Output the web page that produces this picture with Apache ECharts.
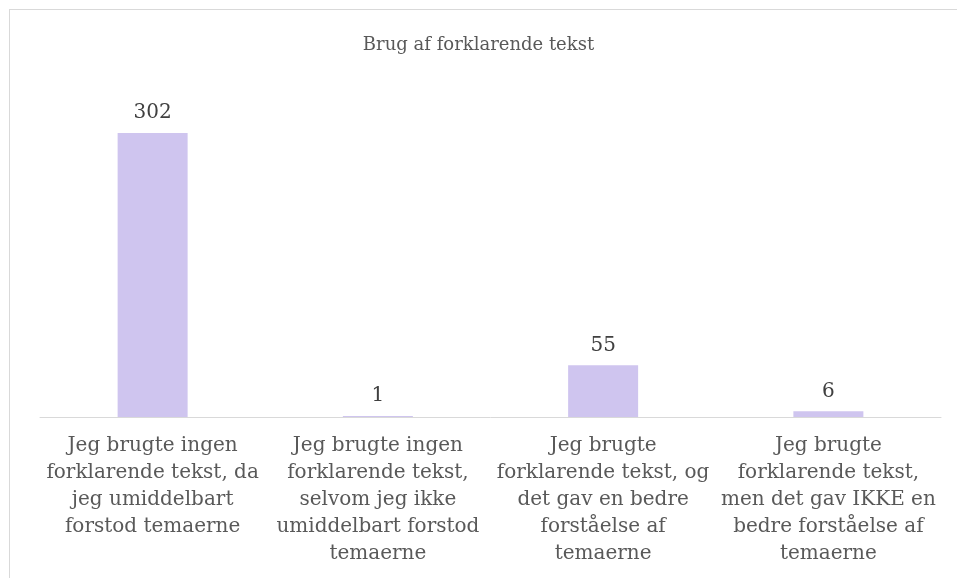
<!DOCTYPE html>
<html>
<head>
<meta charset="utf-8">
<script src="https://cdn.jsdelivr.net/npm/echarts@6/dist/echarts.min.js"></script>
<style>
  html, body { margin: 0; padding: 0; background: #fff; overflow: hidden; }
  #frame { position: absolute; left: 9px; top: 9px; width: 1000px; height: 700px; border: 1px solid #d9d9d9; }
  #main { position: absolute; left: 0; top: 0; width: 957px; height: 578px; }
</style>
</head>
<body>
<div id="frame"></div>
<div id="main"></div>
<script>
var title = 'Brug af forklarende tekst';
var categories = [
  'Jeg brugte ingen\nforklarende tekst, da\njeg umiddelbart\nforstod temaerne',
  'Jeg brugte ingen\nforklarende tekst,\nselvom jeg ikke\numiddelbart forstod\ntemaerne',
  'Jeg brugte\nforklarende tekst, og\ndet gav en bedre\nforståelse af\ntemaerne',
  'Jeg brugte\nforklarende tekst,\nmen det gav IKKE en\nbedre forståelse af\ntemaerne'
];
var values = [302, 1, 55, 6];

var serif = '"DejaVu Serif", "Liberation Serif", serif';
var myChart = echarts.init(document.getElementById('main'));
var option = {
    animation: false,
    title: {
        text: title,
        left: 'center',
        top: 31,
        textStyle: { fontFamily: serif, fontSize: 18, fontWeight: 'normal', color: '#595959' }
    },
    grid: { left: 40, right: 16, top: 88, bottom: 161 },
    xAxis: {
        type: 'category',
        data: categories,
        axisLine: { lineStyle: { color: '#d9d9d9', width: 1 } },
        axisTick: { show: false },
        axisLabel: {
            interval: 0,
            margin: 15,
            fontFamily: serif,
            fontSize: 20,
            lineHeight: 27,
            color: '#595959',
            align: 'center'
        }
    },
    yAxis: {
        type: 'value',
        min: 0,
        max: 350,
        show: false,
        splitLine: { show: false }
    },
    series: [{
        type: 'bar',
        data: values,
        barWidth: 70,
        itemStyle: { color: '#cfc5ef' },
        label: {
            show: true,
            position: 'top',
            distance: 10,
            fontFamily: serif,
            fontSize: 20,
            color: '#404040'
        }
    }]
};
myChart.setOption(option);
</script>
</body>
</html>
